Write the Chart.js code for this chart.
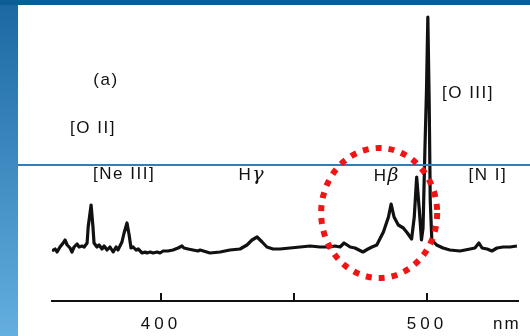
<!DOCTYPE html>
<html>
<head>
<meta charset="utf-8">
<script src="https://cdn.jsdelivr.net/npm/chart.js@4"></script>
<style>
  html, body { margin: 0; padding: 0; background: #fff; }
  canvas { display: block; }
</style>
</head>
<body>
<canvas id="spectrumChart" width="530" height="336"></canvas>
<script>
// wavelength (nm) and relative intensity
var wavelength = [
    359.0, 360.2, 360.9, 362.0, 363.2, 363.9, 364.7, 365.8, 366.5, 367.3,
    368.4, 369.2, 370.3, 371.1, 372.2, 372.6, 373.7, 374.4, 374.8, 375.9,
    376.7, 377.8, 378.6, 379.7, 380.8, 382.0, 383.1, 383.8, 385.3, 386.1,
    387.2, 388.0, 388.7, 389.5, 390.6, 391.4, 392.9, 394.0, 394.7, 395.9,
    397.0, 398.5, 399.6, 400.8, 402.6, 404.5, 406.4, 407.9, 408.6, 410.2,
    412.0, 413.9, 414.7, 418.4, 422.2, 425.9, 429.7, 432.3, 434.2, 436.1,
    438.0, 439.8, 442.1, 444.7, 448.5, 452.3, 456.0, 459.8, 463.5, 465.4,
    467.3, 468.8, 471.1, 472.9, 475.9, 477.8, 479.3, 481.1, 483.6, 485.5,
    486.5, 487.6, 489.2, 491.1, 492.6, 494.2, 495.2, 496.1, 497.1, 497.9,
    498.5, 499.2, 499.8, 500.3, 500.8, 501.2, 501.8, 503.6, 506.0, 508.6,
    512.4, 516.2, 518.0, 519.5, 520.7, 522.6, 524.4, 526.3, 528.6, 531.2,
    533.8
];
var intensity = [
    50, 52, 49, 54, 58, 61, 56, 53, 49, 54,
    57, 54, 55, 54, 58, 74, 96, 74, 58, 54,
    56, 52, 55, 51, 54, 49, 54, 51, 59, 68,
    78, 66, 53, 54, 51, 52, 48, 49, 48, 49,
    48, 49, 48, 50, 50, 51, 53, 55, 53, 52,
    51, 50, 51, 48, 49, 51, 52, 56, 61, 64,
    59, 54, 52, 52, 53, 54, 55, 54, 54, 55,
    54, 58, 54, 53, 49, 52, 54, 56, 69, 84,
    97, 84, 76, 73, 68, 62, 84, 124, 91, 61,
    73, 151, 211, 284, 201, 101, 61, 56, 53, 51,
    50, 52, 53, 58, 53, 52, 50, 53, 54, 54,
    55
];

var tickValues = [400, 450, 500];
var tickLabels = ['400', '', '500'];
var axisUnit = 'nm';

// line identifications, placed in data coordinates
var lineNames = ['(a)', '[O II]', '[Ne III]', 'Hγ', 'Hβ', '[O III]', '[N I]'];
var lineNameWl = [379.3, 374.4, 386.1, 433.8, 484.6, 515.4, 522.9];
var lineNameLevel = [221, 173, 127, 126, 125, 208, 126];

// red dotted ring round the H-beta region
var ringCenter = [482.0, 88];

function drawMixed(ctx, text, cx, cy) {
    // latin in sans, greek letters in italic serif
    var parts = [];
    var total = 0;
    for (const ch of text) {
        var greek = /[\u0370-\u03ff]/.test(ch);
        ctx.font = greek ? 'italic 19px "DejaVu Serif"' : '17px "Liberation Sans"';
        ctx.letterSpacing = greek ? '0px' : '1.5px';
        var w = ctx.measureText(ch).width;
        parts.push({ ch: ch, greek: greek, w: w });
        total += w;
    }
    var x = cx - total / 2;
    parts.forEach(p => {
        ctx.font = p.greek ? 'italic 19px "DejaVu Serif"' : '17px "Liberation Sans"';
        ctx.letterSpacing = p.greek ? '0px' : '1.5px';
        ctx.fillText(p.ch, x, cy);
        x += p.w;
    });
}

var decor = {
    id: 'decor',
    beforeDraw(chart) {
        const ctx = chart.ctx;
        ctx.save();
        var g = ctx.createLinearGradient(0, 0, 0, 336);
        g.addColorStop(0, '#1b67a1');
        g.addColorStop(1, '#64aee0');
        ctx.fillStyle = g;
        ctx.fillRect(0, 0, 18, 336);
        ctx.fillStyle = '#0b5d93';
        ctx.fillRect(0, 0, 530, 5);
        ctx.fillStyle = '#ffffff';
        ctx.fillRect(18, 5, 512, 331);
        ctx.restore();
        ctx.letterSpacing = '4px'; // spaced-out tick digits
    },
    beforeDatasetsDraw(chart) {
        chart.ctx.letterSpacing = '0px';
    },
    afterDraw(chart) {
        const ctx = chart.ctx;
        const xs = chart.scales.x;
        const ys = chart.scales.y;
        const bottom = chart.chartArea.bottom;
        ctx.save();

        // inward tick marks
        ctx.strokeStyle = '#111';
        ctx.lineWidth = 2;
        tickValues.forEach(v => {
            var px = Math.round(xs.getPixelForValue(v));
            ctx.beginPath();
            ctx.moveTo(px, bottom);
            ctx.lineTo(px, bottom - 8);
            ctx.stroke();
        });

        // unit
        ctx.fillStyle = '#111';
        ctx.textAlign = 'left';
        ctx.textBaseline = 'alphabetic';
        ctx.font = '17px "Liberation Sans"';
        ctx.letterSpacing = '2px';
        ctx.fillText(axisUnit, 493, 329);

        // line names
        ctx.textAlign = 'left';
        ctx.textBaseline = 'middle';
        lineNames.forEach((t, i) => {
            drawMixed(ctx, t, xs.getPixelForValue(lineNameWl[i]), ys.getPixelForValue(lineNameLevel[i]));
        });
        ctx.letterSpacing = '0px';

        // blue rule across the slide
        ctx.strokeStyle = '#2b80c1';
        ctx.lineWidth = 2;
        ctx.beginPath();
        ctx.moveTo(18, 165);
        ctx.lineTo(530, 165);
        ctx.stroke();

        // red dotted ring
        ctx.strokeStyle = '#f01414';
        ctx.lineWidth = 6;
        ctx.setLineDash([6, 7]);
        ctx.beginPath();
        ctx.ellipse(xs.getPixelForValue(ringCenter[0]), ys.getPixelForValue(ringCenter[1]), 58, 65, 0, 0, Math.PI * 2);
        ctx.stroke();
        ctx.restore();
    }
};

var ctx = document.getElementById('spectrumChart');
var chart = new Chart(ctx, {
    type: 'line',
    data: {
        datasets: [{
            label: 'spectrum',
            data: wavelength.map((w, i) => ({ x: w, y: intensity[i] })),
            borderColor: '#111111',
            borderWidth: 3.2,
            borderJoinStyle: 'round',
            pointRadius: 0,
            tension: 0,
            fill: false
        }]
    },
    options: {
        responsive: false,
        animation: false,
        layout: { padding: { left: 52, right: 12, top: 5, bottom: 0 } },
        plugins: {
            legend: { display: false },
            tooltip: { enabled: false }
        },
        scales: {
            x: {
                type: 'linear',
                min: 359,
                max: 534.2,
                afterBuildTicks: (scale) => { scale.ticks = tickValues.map(v => ({ value: v })); },
                afterFit: (scale) => { scale.height = 35; },
                grid: { display: false, drawTicks: false },
                border: { display: true, color: '#111', width: 2 },
                ticks: {
                    color: '#111',
                    font: { family: 'Liberation Sans', size: 17 },
                    padding: 13,
                    maxRotation: 0,
                    autoSkip: false,
                    callback: (v) => tickLabels[tickValues.indexOf(v)] ?? ''
                }
            },
            y: { display: false, min: 0, max: 296 }
        }
    },
    plugins: [decor]
});
</script>
</body>
</html>
